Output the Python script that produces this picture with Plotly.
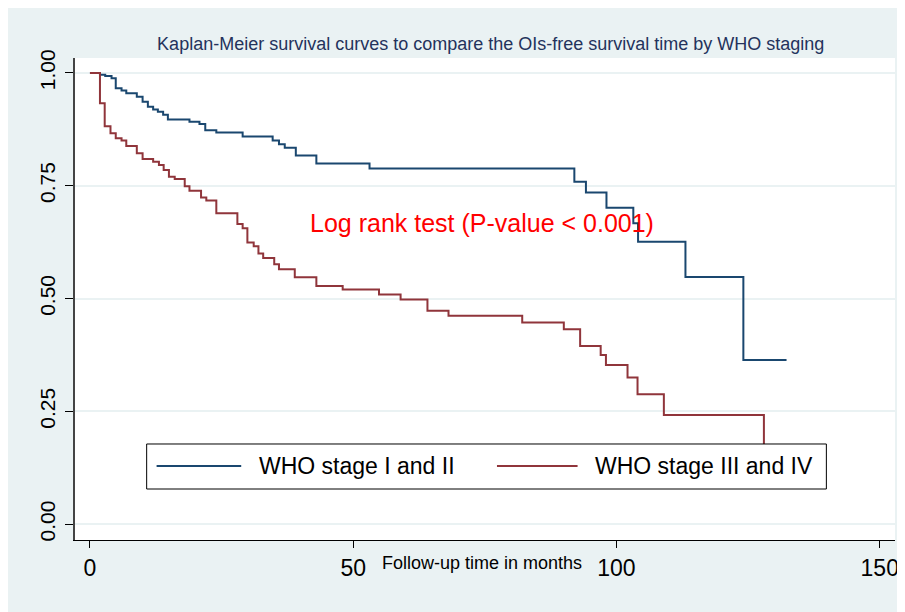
"""
    Kaplan-Meier curves by WHO stage
"""

import plotly.graph_objs as go

# Kaplan-Meier estimates (months, survival)
stage12_time = [0, 1.9, 2.9, 4.1, 4.9, 6.0, 6.9, 8.9, 10.0, 11.0, 12.0, 12.9, 13.9, 14.8,
                18.9, 20.8, 21.9, 24.0, 29.0, 34.7, 35.9, 37.0, 39.1, 43.0, 53.1, 92.0,
                94.2, 98.1, 103.2, 104.1, 113.1, 124.1, 132.3]
stage12_surv = [1.0, 0.996, 0.993, 0.988, 0.966, 0.961, 0.955, 0.947, 0.936, 0.925, 0.919,
                0.914, 0.907, 0.897, 0.892, 0.887, 0.873, 0.868, 0.859, 0.850, 0.842, 0.834,
                0.817, 0.799, 0.788, 0.759, 0.735, 0.701, 0.667, 0.626, 0.548, 0.364, 0.364]

stage34_time = [0, 1.9, 2.8, 3.9, 4.9, 6.0, 6.9, 8.9, 10.0, 12.0, 13.1, 14.0, 15.0, 16.1,
                18.0, 18.9, 21.1, 22.1, 24.0, 28.0, 29.0, 29.9, 31.1, 32.0, 32.9, 35.0,
                35.9, 38.9, 43.0, 48.0, 54.9, 59.0, 64.1, 68.1, 82.1, 90.0, 93.1, 97.0,
                98.0, 102.1, 104.0, 109.0, 128.0]
stage34_surv = [1.0, 0.933, 0.882, 0.866, 0.855, 0.850, 0.838, 0.822, 0.809, 0.803, 0.796,
                0.785, 0.770, 0.765, 0.749, 0.739, 0.724, 0.717, 0.689, 0.665, 0.656, 0.624,
                0.616, 0.600, 0.590, 0.576, 0.565, 0.547, 0.528, 0.520, 0.509, 0.498, 0.473,
                0.462, 0.447, 0.432, 0.395, 0.375, 0.353, 0.325, 0.288, 0.242, 0.121]

x_ticks = [0, 50, 100, 150]
y_ticks = [0, 0.25, 0.5, 0.75, 1.0]

names = ["WHO stage I and II", "WHO stage III and IV"]
colors = ["#1a476f", "#90353b"]

BG = "#eaf2f3"
FONT = "Liberation Sans, Arial, Helvetica, sans-serif"

data = [
    go.Scatter(x=stage12_time, y=stage12_surv, name=names[0], mode="lines",
               line={"color": colors[0], "width": 2, "shape": "hv"}),
    go.Scatter(x=stage34_time, y=stage34_surv, name=names[1], mode="lines",
               line={"color": colors[1], "width": 2, "shape": "hv"}),
]

shapes = [
    # legend box drawn by hand (long sample lines as in the reference)
    dict(type="rect", xref="paper", yref="paper", x0=0.0874, x1=0.9163, y0=0.1058, y1=0.1992,
         fillcolor="white", line={"color": "black", "width": 1}, layer="above"),
    dict(type="line", xref="paper", yref="paper", x0=0.0995, x1=0.2027, y0=0.1535, y1=0.1535,
         line={"color": colors[0], "width": 2}, layer="above"),
    dict(type="line", xref="paper", yref="paper", x0=0.5146, x1=0.6129, y0=0.1535, y1=0.1535,
         line={"color": colors[1], "width": 2}, layer="above"),
]

annotations = [
    dict(text="Log rank test (P-value < 0.001)", x=41.4, y=0.667, xref="x", yref="y",
         xanchor="left", yanchor="middle", showarrow=False,
         font={"family": FONT, "size": 25, "color": "#ff0000"}),
    dict(text="Follow-up time in months", x=0.496, y=-0.048, xref="paper", yref="paper",
         xanchor="center", yanchor="middle", showarrow=False,
         font={"family": FONT, "size": 18, "color": "black"}),
    dict(text=names[0], x=0.2221, y=0.1535, xref="paper", yref="paper",
         xanchor="left", yanchor="middle", showarrow=False,
         font={"family": FONT, "size": 23, "color": "black"}),
    dict(text=names[1], x=0.6323, y=0.1535, xref="paper", yref="paper",
         xanchor="left", yanchor="middle", showarrow=False,
         font={"family": FONT, "size": 23, "color": "black"}),
]

layout = go.Layout(
    width=897, height=604,
    margin={"l": 67, "r": 6, "t": 50, "b": 72},
    paper_bgcolor=BG, plot_bgcolor="white",
    showlegend=False,
    title={"text": "Kaplan-Meier survival curves to compare the OIs-free survival time by WHO staging",
           "x": 0.507, "xref": "paper", "xanchor": "center",
           "y": 0.9404, "yref": "container", "yanchor": "middle",
           "font": {"family": FONT, "size": 18, "color": "#24325c"}},
    xaxis={"range": [-2.84, 152.9], "tickvals": x_ticks, "showgrid": False, "zeroline": False,
           "showline": True, "linecolor": "black", "linewidth": 1,
           "ticks": "outside", "ticklen": 7, "tickcolor": "black",
           "ticklabelstandoff": 0,
           "tickfont": {"family": FONT, "size": 23, "color": "black"}},
    yaxis={"range": [-0.035, 1.033], "tickvals": y_ticks, "tickformat": ".2f",
           "showgrid": True, "gridcolor": BG, "gridwidth": 2, "zeroline": False,
           "showline": True, "linecolor": "#444444", "linewidth": 1.5,
           "ticks": "outside", "ticklen": 8, "tickcolor": "black", "tickangle": -90,
           "ticklabelstandoff": 2,
           "tickfont": {"family": FONT, "size": 21, "color": "black"}},
    shapes=shapes,
    annotations=annotations,
)

fig = go.Figure(data=data, layout=layout)
fig.write_html("out.html")
